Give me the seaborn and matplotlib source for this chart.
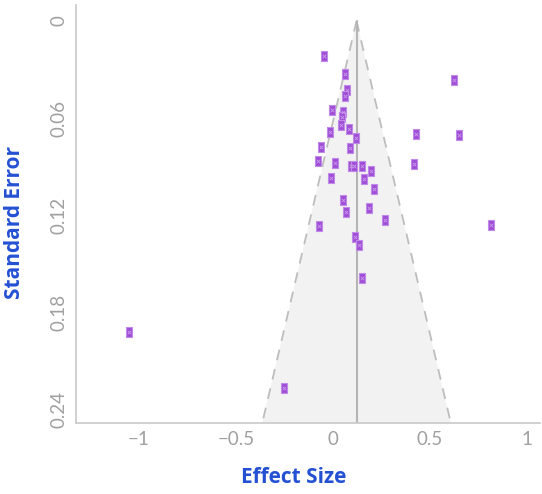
import numpy as np
import pandas as pd
import seaborn as sns
import matplotlib.pyplot as plt
from matplotlib.path import Path

# study effect sizes and their standard errors
effect_size = [-0.046, 0.060, 0.627, 0.072, 0.060, -0.002, 0.052, 0.046, 0.040,
               -0.014, 0.082, 0.428, 0.648, 0.117, -0.062, 0.086, -0.079, 0.010,
               0.093, 0.110, 0.151, 0.416, 0.199, -0.010, 0.163, 0.210, 0.053,
               0.187, 0.069, 0.268, -0.069, 0.814, 0.112, 0.134, 0.149, -1.052,
               -0.253]
std_error = [0.0214, 0.0329, 0.0366, 0.0428, 0.0461, 0.0551, 0.0561, 0.0594, 0.0642,
             0.0685, 0.0664, 0.0699, 0.0705, 0.0720, 0.0775, 0.0782, 0.0866, 0.0878,
             0.0896, 0.0896, 0.0895, 0.0882, 0.0927, 0.0969, 0.0977, 0.1038, 0.1102,
             0.1155, 0.1180, 0.1228, 0.1263, 0.1257, 0.1331, 0.1384, 0.1585, 0.1920,
             0.2262]
pooled_effect = 0.122
se_max = 0.248

xticks = [-1, -0.5, 0, 0.5, 1]
yticks = [0, 0.06, 0.12, 0.18, 0.24]

df = pd.DataFrame({'effect': effect_size, 'se': std_error})

sns.set_style('white')
plt.rcParams['font.family'] = ['Lato', 'DejaVu Sans']

fig = plt.figure(figsize=(5.42, 4.94), dpi=100)
ax = fig.add_axes([0.140, 0.144, 0.856, 0.846])

# funnel (95% pseudo confidence region)
se_line = np.array([0, se_max])
left = pooled_effect - 1.96 * se_line
right = pooled_effect + 1.96 * se_line
ax.fill([pooled_effect, left[1], right[1]], [0, se_max, se_max],
        color='#f2f2f2', zorder=0, lw=0)
ax.plot(left, se_line, color='#bdbdbd', ls=(0, (6, 5)), lw=1.3, zorder=1)
ax.plot(right, se_line, color='#bdbdbd', ls=(0, (6, 5)), lw=1.3, zorder=1)
ax.plot([pooled_effect, pooled_effect], [0, se_max], color='#b5b5b5', lw=1.5, zorder=1)

# tall rectangle marker
rect = Path([(-0.72, -1), (0.72, -1), (0.72, 1), (-0.72, 1), (-0.72, -1)],
            [Path.MOVETO, Path.LINETO, Path.LINETO, Path.LINETO, Path.CLOSEPOLY])
sns.scatterplot(data=df, x='effect', y='se', marker=rect, s=46, color='#a04ed8',
                edgecolor='#c08ae8', linewidth=0.8, ax=ax, zorder=3)
ax.scatter(df['effect'], df['se'], marker='x', s=6, color='#c99be9', lw=0.6, zorder=4)

ax.set_xlim(-1.325, 1.067)
ax.set_ylim(se_max, -0.0099)
ax.set_xticks(xticks)
ax.set_xticklabels(['\u22121', '\u22120.5', '0', '0.5', '1'])
ax.set_yticks(yticks)
ax.set_yticklabels(['0', '0.06', '0.12', '0.18', '0.24'], rotation=90, va='center')
ax.tick_params(axis='both', colors='#a0a0a0', labelsize=13.5, length=0, pad=6)

for side in ['top', 'right']:
    ax.spines[side].set_visible(False)
for side in ['left', 'bottom']:
    ax.spines[side].set_color('#c8c8c8')
    ax.spines[side].set_linewidth(1.2)

ax.set_xlabel('Effect Size', color='#2450d4', fontsize=15, fontweight='bold',
              family=['Open Sans', 'DejaVu Sans'])
ax.set_ylabel('Standard Error', color='#2450d4', fontsize=15, fontweight='bold',
              family=['Open Sans', 'DejaVu Sans'])
ax.xaxis.set_label_coords(0.47, -0.105)
ax.yaxis.set_label_coords(-0.11, 0.48)

fig.savefig('out.png', dpi=100)
